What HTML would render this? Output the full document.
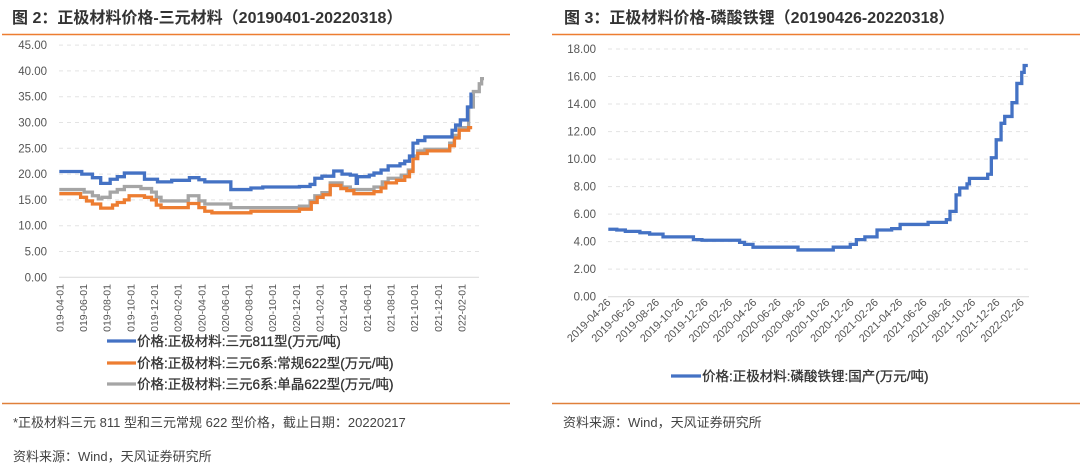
<!DOCTYPE html>
<html><head><meta charset="utf-8"><style>
body{margin:0;width:1080px;height:468px;background:#fff;overflow:hidden;font-family:"Liberation Sans","Noto Sans CJK SC",sans-serif}
svg{position:absolute;left:0;top:0}
</style></head><body>
<svg width="1080" height="468" font-family="Liberation Sans, Noto Sans CJK SC, sans-serif">
<defs><clipPath id="lclip"><rect x="40" y="280" width="460" height="52"/></clipPath></defs>
<text x="12" y="23" font-size="16" font-weight="bold" fill="#333">图 2：正极材料价格-三元材料（20190401-20220318）</text>
<text x="564" y="23" font-size="16" font-weight="bold" fill="#333">图 3：正极材料价格-磷酸铁锂（20190426-20220318）</text>
<line x1="2" y1="34.5" x2="510" y2="34.5" stroke="#ed7d31" stroke-width="1.5"/>
<line x1="552" y1="34.5" x2="1080" y2="34.5" stroke="#ed7d31" stroke-width="1.5"/>
<line x1="2" y1="403.5" x2="510" y2="403.5" stroke="#e0803a" stroke-width="1.5"/>
<line x1="552" y1="403.5" x2="1080" y2="403.5" stroke="#e0803a" stroke-width="1.5"/>
<text x="13" y="427" font-size="13" fill="#444">*正极材料三元 811 型和三元常规 622 型价格，截止日期：20220217</text>
<text x="13" y="461" font-size="13" fill="#444">资料来源：Wind，天风证券研究所</text>
<text x="563" y="427" font-size="13" fill="#444">资料来源：Wind，天风证券研究所</text>
<g id="L"></g><g id="LX" clip-path="url(#lclip)"></g><g id="R"></g>
</svg>
<script>
// Left chart data (month offsets from 2019-04-01, step values)
const leftTicks=["2019-04-01","2019-06-01","2019-08-01","2019-10-01","2019-12-01","2020-02-01","2020-04-01","2020-06-01","2020-08-01","2020-10-01","2020-12-01","2021-02-01","2021-04-01","2021-06-01","2021-08-01","2021-10-01","2021-12-01","2022-02-01"];
const leftYTicks=[0,5,10,15,20,25,30,35,40,45];
const s811M=[0,1.9,2.8,3.5,4.3,4.9,5.5,7.2,8.3,9.5,11,11.8,12.3,14.5,16.2,17.2,20.3,21.2,21.6,22.2,23.2,23.9,24.6,25.1,25.2,26.2,26.6,27.2,27.8,28.8,29.2,29.6,29.9,30.3,30.9,33.2,33.5,33.9,34.5,34.8,34.9];
const s811V=[20.5,20,19.3,18.2,19,19.5,20.2,19,18.5,18.8,19.3,18.9,18.5,17,17.3,17.5,17.6,18,19.2,19.6,20.6,20,19.8,18.2,19.5,19.8,20.2,20.8,21.6,22,22.5,23.5,26,26.5,27.2,28.5,29.5,30.5,33,35.5,35.5];
const s622M=[0,1.8,2.3,2.8,3.5,4.5,4.9,5.5,5.9,7.2,7.8,8.2,8.6,10.9,11.8,12.3,12.9,16.2,20.3,21.3,21.8,22.3,22.9,23.8,24.3,24.9,26.6,27.2,27.6,28.5,29.2,29.6,29.9,30.3,31.1,33,33.4,33.8,34.6,34.9];
const s622V=[16.2,15.5,14.8,14.2,13.4,14,14.5,15,15.8,15.5,15,14,13.5,14.3,13.5,12.8,12.5,12.8,13.2,14.5,15.5,16,17.8,17.2,16.8,16.2,16.6,17.3,18.3,18.8,19.5,20.5,23,24,24.5,25.5,27,28.5,29,29];
const sScM=[0,2.1,2.8,3.3,3.6,4.3,4.9,5.5,6.9,7.8,8.2,8.6,10.9,11.8,12.3,14.5,20.3,21.2,21.6,22.2,22.9,23.9,24.6,26.6,27.3,27.8,28.9,29.5,29.9,30.3,30.9,33,33.4,33.8,34.6,35,35.5,35.7,35.9];
const sScV=[17,16.5,15.8,15.2,15.5,16.5,17,17.6,17.2,16.5,15.5,14.8,15.8,14.8,14.2,13.5,13.8,14.8,15.8,16.4,18.3,17.5,17,17.5,18.5,19.2,19.8,20.8,23.5,24.5,24.8,26,27.5,29,33,36,37.5,38.5,38.5];
// Right chart data (month offsets from 2019-04-26)
const rightTicks=["2019-04-26","2019-06-26","2019-08-26","2019-10-26","2019-12-26","2020-02-26","2020-04-26","2020-06-26","2020-08-26","2020-10-26","2020-12-26","2021-02-26","2021-04-26","2021-06-26","2021-08-26","2021-10-26","2021-12-26","2022-02-26"];
const rightYTicks=[0,2,4,6,8,10,12,14,16,18];
const lfpM=[0,0.7,1.4,2.6,3.4,4.5,7,7.7,10.8,11.2,11.9,15.6,18.5,19.9,20.4,21.1,22.1,23.3,24,26.3,27.8,28.1,28.6,28.9,29.5,29.7,31.2,31.5,31.9,32.3,32.6,33.2,33.6,34,34.2,34.5];
const lfpV=[4.9,4.85,4.75,4.65,4.55,4.35,4.15,4.1,3.95,3.8,3.6,3.4,3.6,3.8,4.15,4.35,4.85,4.95,5.25,5.4,5.6,6.2,7.4,7.9,8.2,8.6,8.9,10.1,11.4,12.6,13.1,14.1,15.5,16.3,16.8,16.8];

const NS="http://www.w3.org/2000/svg";
function mk(tag,attrs,parent,txt){const e=document.createElementNS(NS,tag);for(const k in attrs)e.setAttribute(k,attrs[k]);if(txt!==undefined)e.textContent=txt;parent.appendChild(e);return e;}
function stepPath(ms,vs,fx,fy){let d="M"+fx(ms[0])+","+fy(vs[0]);for(let i=1;i<ms.length;i++){d+="H"+fx(ms[i])+"V"+fy(vs[i]);}return d;}

// LEFT
const L=document.getElementById('L');
const LX=document.getElementById('LX');
const xL=m=>59.3+m*11.83, yL=v=>277.3-v*5.16;
leftYTicks.forEach(v=>{
  const g=mk('line',{x1:59,x2:479,y1:yL(v),y2:yL(v),stroke:v===0?'#d9d9d9':'#e3e3e3','stroke-dasharray':v===0?'':'4,4'},L);
  
  
  const t=mk('text',{x:47,y:yL(v)+4,'font-size':11.5,fill:'#555','text-anchor':'end'},L,v.toFixed(2));
  
  
});
leftTicks.forEach((s,i)=>{
  const x=xL(i*2);
  const t=mk('text',{x:0,y:0,'font-size':10.5,fill:'#555','text-anchor':'end',transform:`translate(${x+4},${284}) rotate(-90)`},LX,s);
  
  
});
[[sScM,sScV,'#a5a5a5','series-single-crystal-622'],[s622M,s622V,'#ed7d31','series-regular-622'],[s811M,s811V,'#4472c4','series-811']].forEach(([m,v,c,n])=>{
  const p=mk('path',{d:stepPath(m,v,xL,yL),fill:'none',stroke:c,'stroke-width':3.3},L);
  
  
});
[['价格:正极材料:三元811型(万元/吨)','#4472c4',341,'legend-811'],['价格:正极材料:三元6系:常规622型(万元/吨)','#ed7d31',363,'legend-regular-622'],['价格:正极材料:三元6系:单晶622型(万元/吨)','#a5a5a5',384,'legend-single-crystal-622']].forEach(([s,c,y,n])=>{
  const g=mk('g',{},L);
  
  
  mk('line',{x1:107,x2:136,y1:y,y2:y,stroke:c,'stroke-width':3.3},g);
  mk('text',{x:137,y:y+5,'font-size':13.5,fill:'#333','stroke':'#333','stroke-width':0.3},g,s);
});

// RIGHT
const R=document.getElementById('R');
const xR=m=>608.3+m*12.16, yR=v=>296.7-v*13.76;
rightYTicks.forEach(v=>{
  const g=mk('line',{x1:608,x2:1029,y1:yR(v),y2:yR(v),stroke:v===0?'#d9d9d9':'#e3e3e3','stroke-dasharray':v===0?'':'4,4'},R);
  
  
  const t=mk('text',{x:596,y:yR(v)+4,'font-size':11.5,fill:'#555','text-anchor':'end'},R,v.toFixed(2));
  
  
});
rightTicks.forEach((s,i)=>{
  const x=xR(i*2);
  const t=mk('text',{x:0,y:0,'font-size':11,fill:'#555','text-anchor':'end',transform:`translate(${x+3},${303}) rotate(-45)`},R,s);
  
  
});
const rp=mk('path',{d:stepPath(lfpM,lfpV,xR,yR),fill:'none',stroke:'#4472c4','stroke-width':3.3},R);


const rl=mk('g',{},R);


mk('line',{x1:671,x2:701,y1:376,y2:376,stroke:'#4472c4','stroke-width':3.3},rl);
mk('text',{x:702,y:381,'font-size':13.5,fill:'#333','stroke':'#333','stroke-width':0.3},rl,'价格:正极材料:磷酸铁锂:国产(万元/吨)');
</script>
</body></html>
